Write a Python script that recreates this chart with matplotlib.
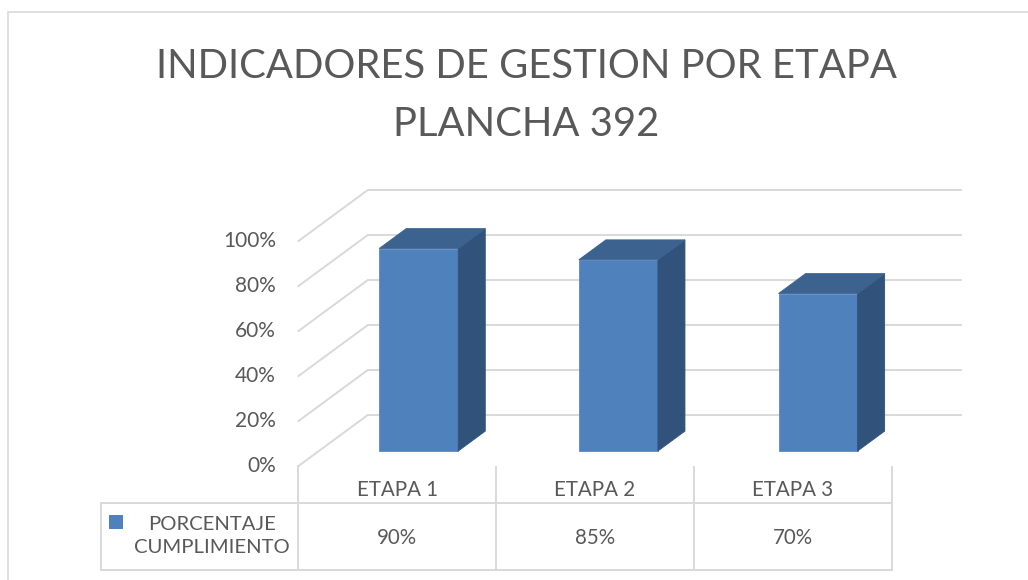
import matplotlib.pyplot as plt
from matplotlib.patches import Polygon, Rectangle

# data
etapas = ['ETAPA 1', 'ETAPA 2', 'ETAPA 3']
cumplimiento = [0.90, 0.85, 0.70]
serie = 'PORCENTAJE\nCUMPLIMIENTO'
ticks = [0, 0.2, 0.4, 0.6, 0.8, 1.0]
titulo = ['INDICADORES DE GESTION POR ETAPA', 'PLANCHA 392']

plt.rcParams['font.family'] = ['Lato', 'DejaVu Sans']
gris = '#595959'
linea = '#d9d9d9'
frente, lado, techo = '#4f81bd', '#31527b', '#3c6290'

W, H = 1028, 580
fig = plt.figure(figsize=(W / 100, H / 100), dpi=100)
ax = fig.add_axes([0, 0, 1, 1])
ax.axis('off')

# pixel layout of the "3d" box: x in categories, y in value units
X0, SX = 298.5, 197.7   # px of category 0, px per category
Y0, SY = 466, 225       # px (from top) of 0 %, px per 100 %
ax.set_xlim(-X0 / SX, (W - X0) / SX)
ax.set_ylim(-(H - Y0) / SY, Y0 / SY)

DX, DY = 69.3 / SX, 51 / SY   # depth of the walls
f0, fd = 0.294, 0.39          # bar front position and bar depth (fraction of wall depth)
persp = 1.01                  # bars sit a little closer, so slightly wider spacing
bw = 0.40
n = len(etapas)

# walls / gridlines
for g in ticks:
    ax.plot([0, DX, n + DX], [g, g + DY, g + DY], color=linea, lw=1.4, zorder=1,
            solid_joinstyle='miter')
    ax.text(-22.5 / SX, g, f'{g:.0%}', ha='right', va='center', fontsize=15, color=gris)

# bars
for i, v in enumerate(cumplimiento):
    x = (i + 0.5) * persp - bw / 2 + f0 * DX
    y = f0 * DY
    ddx, ddy = fd * DX, fd * DY
    ax.bar(x, v, bottom=y, width=bw, align='edge', color=frente,
           edgecolor='#5a8ac6', lw=0.6, zorder=3)
    ax.add_patch(Polygon([(x + bw, y), (x + bw + ddx, y + ddy), (x + bw + ddx, y + v + ddy),
                          (x + bw, y + v)], closed=True, fc=lado, ec=lado, lw=0.6, zorder=3))
    ax.add_patch(Polygon([(x, y + v), (x + bw, y + v), (x + bw + ddx, y + v + ddy),
                          (x + ddx, y + v + ddy)], closed=True, fc=techo, ec=techo, lw=0.6, zorder=3))

# data table
t_top, t_mid, t_bot = -0.7 / SY, -36.5 / SY, -104 / SY
for k in range(n + 1):
    ax.plot([k, k], [t_top if k > 0 else 0, t_bot], color=linea, lw=1.4, zorder=1)
ax.plot([-1, n], [t_mid, t_mid], color=linea, lw=1.4, zorder=1)
ax.plot([-1, n], [t_bot, t_bot], color=linea, lw=1.4, zorder=1)
ax.plot([-1, -1], [t_mid, t_bot], color=linea, lw=1.4, zorder=1)

for i, (lab, v) in enumerate(zip(etapas, cumplimiento)):
    ax.text(i + 0.5, -24 / SY, lab, ha='center', va='center', fontsize=14.8, color=gris)
    ax.text(i + 0.5, -71.5 / SY, f'{v:.0%}', ha='center', va='center', fontsize=14.8, color=gris)

ax.scatter([-182.5 / SX], [-56 / SY], marker='s', s=95, color=frente, lw=0, zorder=3)
ax.text(-86.5 / SX, -70.3 / SY, serie, ha='center', va='center', multialignment='center',
        fontsize=14.6, color=gris, linespacing=1.42)

# title
fig.text(526 / W, 1 - 78.3 / H, titulo[0], ha='center', va='baseline', fontsize=28.8, color=gris)
fig.text(526 / W, 1 - 136 / H, titulo[1], ha='center', va='baseline', fontsize=28.8, color=gris)

# chart border
fig.patches.append(Rectangle((8 / W, -0.1), 1.2, 1.1 - 12 / H, transform=fig.transFigure,
                             fill=False, ec=linea, lw=1.2))

fig.savefig('out.png', dpi=100)
